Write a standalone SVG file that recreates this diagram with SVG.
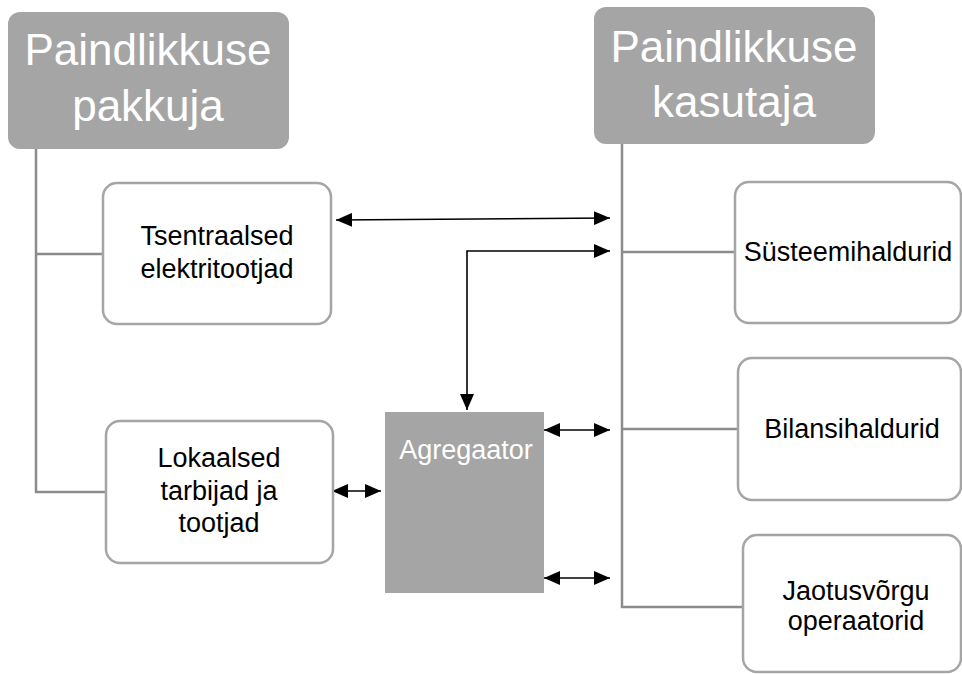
<svg xmlns="http://www.w3.org/2000/svg" width="962" height="674" viewBox="0 0 962 674">
<style>
.hdr{fill:#a5a5a5}
.hdrt{fill:#ffffff;font-family:"Liberation Sans",Arial,sans-serif;font-size:44px;text-anchor:middle}
.box{fill:#ffffff;stroke:#a5a5a5;stroke-width:2.5}
.t{fill:#000000;font-family:"Liberation Sans",Arial,sans-serif;font-size:27px;text-anchor:middle}
.tree{fill:none;stroke:#8c8c8c;stroke-width:2.5}
.arr{fill:none;stroke:#000000;stroke-width:1.6;marker-start:url(#ah);marker-end:url(#ah)}
</style>
<defs>
<marker id="ah" viewBox="0 0 16 14" refX="16" refY="7" markerWidth="16" markerHeight="14" markerUnits="userSpaceOnUse" orient="auto-start-reverse">
<path d="M0,0 L16,7 L0,14 Z" fill="#000000"/>
</marker>
</defs>
<g id="connectors">
<path class="tree" d="M36,149 V492 H106 M36,254 H103"/>
<path class="tree" d="M622,144 V607 H743 M622,252 H735 M622,429 H738"/>
<path class="arr" d="M336,220 L610,218"/>
<path class="arr" d="M467,410 V251 H610"/>
<path class="arr" d="M544,430 H610"/>
<path class="arr" d="M544,578 H610"/>
<path class="arr" d="M332,491 H381"/>
</g>
<g id="pakkuja">
<rect class="hdr" x="8" y="12" width="281" height="137" rx="12"/>
<text class="hdrt" x="148" y="65">Paindlikkuse</text>
<text class="hdrt" x="148" y="121">pakkuja</text>
</g>
<g id="kasutaja">
<rect class="hdr" x="594" y="7" width="281" height="137" rx="12"/>
<text class="hdrt" x="734" y="62">Paindlikkuse</text>
<text class="hdrt" x="734" y="117">kasutaja</text>
</g>
<g id="tsentraalsed">
<rect class="box" x="103" y="183" width="228" height="141" rx="14"/>
<text class="t" x="217" y="245">Tsentraalsed</text>
<text class="t" x="217" y="278">elektritootjad</text>
</g>
<g id="lokaalsed">
<rect class="box" x="106" y="421" width="227" height="142" rx="14"/>
<text class="t" x="219" y="467">Lokaalsed</text>
<text class="t" x="219" y="500">tarbijad ja</text>
<text class="t" x="219" y="532">tootjad</text>
</g>
<g id="agregaator">
<rect class="hdr" x="385" y="412" width="159" height="181"/>
<text class="t" x="466" y="459" style="fill:#ffffff">Agregaator</text>
</g>
<g id="systeemihaldurid">
<rect class="box" x="735" y="182" width="226" height="141" rx="14"/>
<text class="t" x="848" y="261">Süsteemihaldurid</text>
</g>
<g id="bilansihaldurid">
<rect class="box" x="738" y="358" width="223" height="142" rx="14"/>
<text class="t" x="852" y="438">Bilansihaldurid</text>
</g>
<g id="jaotusvorgu">
<rect class="box" x="743" y="535" width="218" height="137" rx="14"/>
<text class="t" x="856" y="600">Jaotusvõrgu</text>
<text class="t" x="856" y="630">operaatorid</text>
</g>
</svg>
